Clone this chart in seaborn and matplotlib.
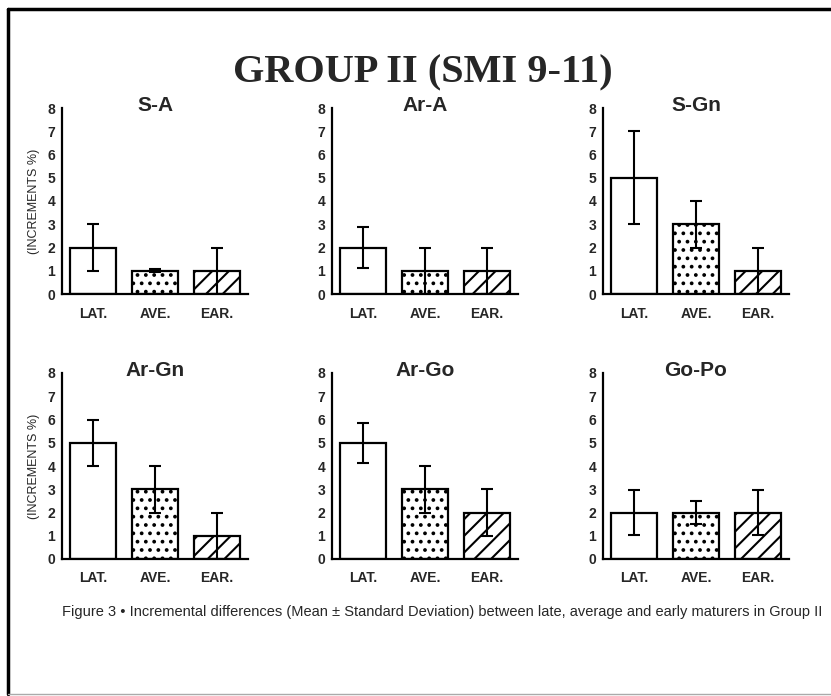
import numpy as np
import pandas as pd
import seaborn as sns
import matplotlib
matplotlib.use("Agg")
import matplotlib.pyplot as plt
from matplotlib.lines import Line2D

groups = ["LAT.", "AVE.", "EAR."]
panels = ["S-A", "Ar-A", "S-Gn", "Ar-Gn", "Ar-Go", "Go-Po"]
means_sa = [2, 1, 1]
sd_sa = [1, 0.07, 1]
means_ara = [2, 1, 1]
sd_ara = [0.9, 1, 1]
means_sgn = [5, 3, 1]
sd_sgn = [2, 1, 1]
means_argn = [5, 3, 1]
sd_argn = [1, 1, 1]
means_argo = [5, 3, 2]
sd_argo = [0.85, 1, 1]
means_gopo = [2, 2, 2]
sd_gopo = [0.95, 0.5, 0.95]

all_means = [means_sa, means_ara, means_sgn, means_argn, means_argo, means_gopo]
all_sd = [sd_sa, sd_ara, sd_sgn, sd_argn, sd_argo, sd_gopo]
hatches = ["", "..", "//"]

sns.set_style("white")
plt.rcParams["font.family"] = ["Liberation Sans", "DejaVu Sans"]
plt.rcParams["hatch.linewidth"] = 1.5

fig = plt.figure(figsize=(8.31, 6.96), dpi=100)

lefts = [62, 332, 603]
bottoms = [294, 559]
W = 831
H = 696

for i, name in enumerate(panels):
    r, c = divmod(i, 3)
    ax = fig.add_axes([lefts[c] / W, 1 - bottoms[r] / H, 186 / W, 186 / H])
    df = pd.DataFrame({"group": groups, "mean": all_means[i], "sd": all_sd[i]})
    sns.barplot(data=df, x="group", y="mean", ax=ax, color="white",
                edgecolor="black", linewidth=1.6, width=0.74, errorbar=None)
    for p, h in zip(ax.patches, hatches):
        p.set_hatch(h)
        p.set_facecolor("white")
    ax.errorbar(range(3), df["mean"], yerr=df["sd"], fmt="none",
                ecolor="black", elinewidth=1.5, capsize=4.5, capthick=1.5)
    ax.set_xlim(-0.5, 2.5)
    ax.set_ylim(0, 8)
    ax.set_yticks(range(9))
    ax.set_xticks([-0.5, 0.5, 1.5, 2.5], minor=True)
    ax.tick_params(axis="x", which="major", length=0, pad=9)
    ax.tick_params(axis="x", which="minor", length=4, width=1.5, direction="out")
    ax.tick_params(axis="y", length=4, width=1.5, direction="out", pad=1)
    for lab in ax.get_xticklabels() + ax.get_yticklabels():
        lab.set_fontweight("bold")
    ax.tick_params(axis="x", labelsize=10)
    ax.tick_params(axis="y", labelsize=10)
    ax.set_xlabel("")
    if c == 0:
        ax.set_ylabel("(INCREMENTS %)", fontsize=9, labelpad=5)
    else:
        ax.set_ylabel("")
    ax.set_title(name, fontsize=15, fontweight="bold", pad=-2)
    sns.despine(ax=ax)
    for s in ["left", "bottom"]:
        ax.spines[s].set_linewidth(1.6)
        ax.spines[s].set_color("black")

fig.text(233 / W, 1 - 82 / H, "GROUP II (SMI 9-11)", ha="left", va="baseline",
         fontsize=29, fontweight="bold", family=["Liberation Serif", "DejaVu Serif"])
fig.text(62 / W, 1 - 612 / H,
         "Figure 3 \u2022 Incremental differences (Mean \u00b1 Standard Deviation) between late, average and early maturers in Group II",
         ha="left", va="center", fontsize=10.5)

# page frame
fig.add_artist(Line2D([8 / W, 1], [1 - 9 / H, 1 - 9 / H], color="black", lw=2.5))
fig.add_artist(Line2D([8 / W, 8 / W], [1 - 9 / H, 1 - 694 / H], color="black", lw=2.5))
fig.add_artist(Line2D([8 / W, 1], [1 - 694 / H, 1 - 694 / H], color="#aaaaaa", lw=1))

fig.savefig("out.png", dpi=100)
